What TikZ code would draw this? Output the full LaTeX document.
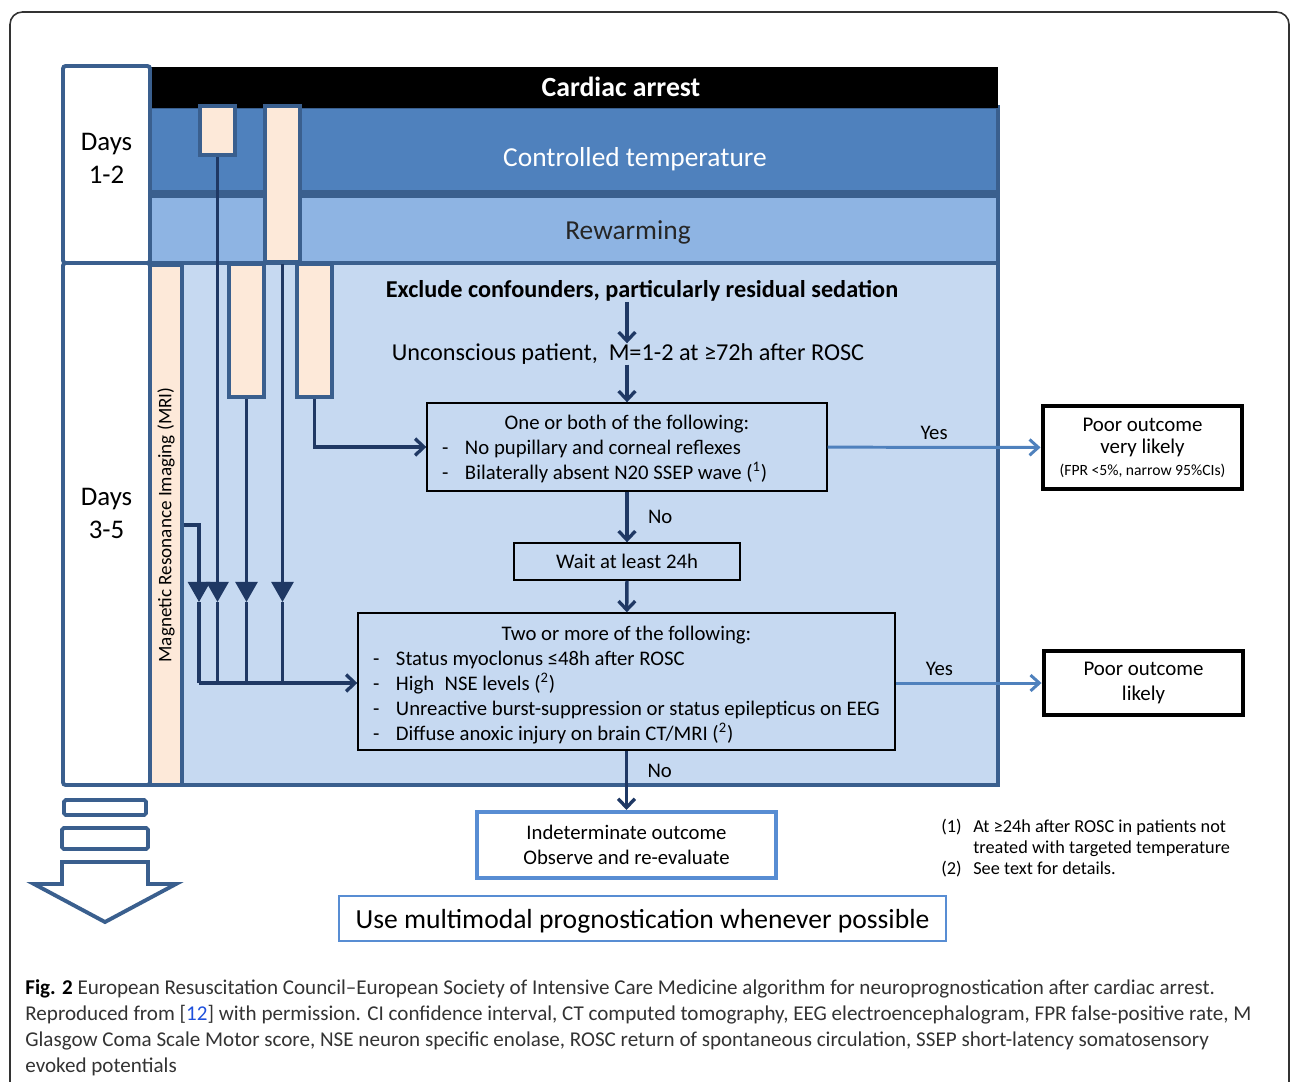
\documentclass[tikz,border=0pt]{standalone}
\usepackage{fontspec}
\setmainfont{Carlito}
\usetikzlibrary{arrows.meta,positioning}

\definecolor{frameblue}{RGB}{58,95,142}
\definecolor{ctrlblue}{RGB}{79,129,189}
\definecolor{rewarmblue}{RGB}{142,180,227}
\definecolor{paleblue}{RGB}{198,217,241}
\definecolor{peach}{RGB}{253,233,217}
\definecolor{navy}{RGB}{31,56,100}
\definecolor{yesblue}{RGB}{79,129,189}
\definecolor{lightframe}{RGB}{88,141,211}
\definecolor{linkblue}{RGB}{30,80,220}

\newlength\pxu
\setlength\pxu{0.02cm}
\newcommand\fsz[2]{\fontsize{#1}{#2}\selectfont}
\newcommand\critline[1]{\hspace*{15\pxu}\makebox[23\pxu][l]{-}#1\par}

\begin{document}
\begin{tikzpicture}[x=0.02cm,y=-0.02cm,every node/.style={inner sep=0pt},
    band/.style={draw=frameblue,line width=2.2pt,minimum width=848*\pxu},
    band text/.style={font=\fsz{15.6}{18}},
    day box/.style={draw=frameblue,line width=2.2pt,fill=white,rounded corners=1.5pt,minimum width=87*\pxu},
    day text/.style={align=center,font=\fsz{15.3}{18.7}},
    peach bar/.style={draw=frameblue,line width=2.2pt,fill=peach,minimum width=35*\pxu},
    crit box/.style={draw=black,line width=0.8pt,fill=paleblue,font=\fsz{11.8}{14.2}},
    outcome box/.style={draw=black,line width=2.8pt,fill=white,minimum width=199*\pxu,align=center},
    navy line/.style={draw=navy,line width=1.9pt},
    navy arrow/.style={navy line,-{Straight Barb[length=5pt,width=9.5pt]}},
    drop arrow/.style={navy line,-{Triangle[length=11.5pt,width=12.5pt]}},
    yes arrow/.style={draw=yesblue,line width=1.7pt,-{Straight Barb[length=5pt,width=9pt]}},
    small label/.style={font=\fsz{11.8}{13},text=black}]

    \useasboundingbox (0,0) rectangle (1292,1082);
    \clip (0,0) rectangle (1292,1082);
    \draw[black!80,line width=0.9pt,rounded corners=7pt] (10,12) rectangle (1289,1120);

    \node[band,fill=ctrlblue,minimum height=85*\pxu,label={[band text,text=white,xshift=61*\pxu,yshift=-10*\pxu]center:Controlled temperature}] (ctrl) at (574,149.5) {};
    \node[band,fill=rewarmblue,minimum height=67*\pxu,label={[band text,text=black!85,xshift=54*\pxu,yshift=-2.5*\pxu]center:Rewarming}] (rewarm) at (574,229.5) {};
    \node[band,draw=none,fill=black,minimum height=41*\pxu,text=white,font=\bfseries\fsz{15.8}{18}] (cardiac) at (574,87) {\hspace*{94\pxu}Cardiac arrest};
    \node[band,fill=paleblue,minimum height=522*\pxu] (lower) at (574,524) {};
    \node[day box,minimum height=197*\pxu,label={[day text,yshift=6*\pxu]center:Days\\1-2}] (days12) at (106.5,164.5) {};
    \node[day box,minimum height=522*\pxu,label={[day text,yshift=10.5*\pxu]center:Days\\3-5}] (days35) at (106.5,524) {};

    \node[peach bar,minimum height=49*\pxu] (pA) at (217.5,130.5) {};
    \node[peach bar,minimum height=156*\pxu] (pB) at (282.5,184) {};
    \node[peach bar,minimum height=133*\pxu] (pC) at (246.5,330.5) {};
    \node[peach bar,minimum height=133*\pxu] (pD) at (314.5,330.5) {};
    \node[peach bar,rotate=90,minimum width=520*\pxu,minimum height=32*\pxu,font=\fsz{10.9}{12}] (mri) at (166,525) {Magnetic Resonance Imaging (MRI)};

    \node[font=\bfseries\fsz{13.8}{16}] (excl) at (642,291) {Exclude confounders, particularly residual sedation};
    \node[font=\fsz{13.8}{16}] (uncon) at (628,354) {Unconscious patient,\hspace{0.45em}M=1-2 at ≥72h after ROSC};
    \node[crit box,minimum width=400*\pxu,minimum height=88*\pxu] (both) at (627,447) {\begin{minipage}{400\pxu}\vspace*{4\pxu}\centering One or both of the following:\par\raggedright
        \critline{No pupillary and corneal reflexes}
        \critline{Bilaterally absent N20 SSEP wave (\textsuperscript{1})}\end{minipage}};
    \node[crit box,minimum width=226*\pxu,minimum height=37*\pxu] (wait) at (627,561.5) {Wait at least 24h};
    \node[crit box,minimum width=537*\pxu,minimum height=137*\pxu] (two) at (626.5,681.5) {\begin{minipage}{537\pxu}\vspace*{7\pxu}\centering Two or more of the following:\par\raggedright
        \critline{Status myoclonus ≤48h after ROSC}
        \critline{High\hspace{0.5em}NSE levels (\textsuperscript{2})}
        \critline{Unreactive burst-suppression or status epilepticus on EEG}
        \critline{Diffuse anoxic injury on brain CT/MRI (\textsuperscript{2})}\end{minipage}};
    \node[draw=lightframe,line width=2.3pt,fill=white,minimum width=299*\pxu,minimum height=66*\pxu,align=center,font=\fsz{11.8}{14.2}] (indet) at (626.5,845) {Indeterminate outcome\\Observe and re-evaluate};
    \node[outcome box,minimum height=83*\pxu,font=\fsz{11.9}{12.5}] (poorvl) at (1142.5,447.5) {Poor outcome\\very likely\\{\fsz{8.9}{12.5}(FPR <5\%, narrow 95\%CIs)}};
    \node[outcome box,minimum height=64*\pxu,font=\fsz{11.9}{14.2}] (poorl) at (1143.5,683) {Poor outcome\\likely};
    \node[draw=lightframe,line width=1.5pt,fill=white,minimum width=607*\pxu,minimum height=45*\pxu,font=\fsz{15.7}{18},label={[font=\fsz{15.7}{18},yshift=-3*\pxu]center:Use multimodal prognostication whenever possible}] (multi) at (642.5,918.5) {};

    \node[anchor=north west,font=\fsz{10.4}{11.9}] (notes) at (941,818) {\begin{tabular}{@{}p{32\pxu}@{}l@{}}(1)&At ≥24h after ROSC in patients not\\&treated with targeted temperature\\(2)&See text for details.\end{tabular}};
    \node[anchor=north west,align=left,font=\fsz{12}{14.9},text=black!80] (caption) at (25,979) {{\bfseries\color{black}Fig. 2} European Resuscitation Council–European Society of Intensive Care Medicine algorithm for neuroprognostication after cardiac arrest.\\Reproduced from [{\color{linkblue}12}] with permission. CI confidence interval, CT computed tomography, EEG electroencephalogram, FPR false-positive rate, M\\Glasgow Coma Scale Motor score, NSE neuron specific enolase, ROSC return of spontaneous circulation, SSEP short-latency somatosensory\\evoked potentials};

    \coordinate (tM) at (199,602);
    \coordinate (bM) at (199,683);
    \coordinate (tA) at (pA.south |- tM);
    \coordinate (bA) at (pA.south |- bM);
    \coordinate (tB) at (pB.south |- tM);
    \coordinate (bB) at (pB.south |- bM);
    \coordinate (tC) at (pC.south |- tM);
    \coordinate (bC) at (pC.south |- bM);

    \draw[drop arrow] (mri.south) -| (tM);
    \draw[drop arrow] (pA) -- (tA);
    \draw[drop arrow] (pB) -- (tB);
    \draw[drop arrow] (pC) -- (tC);
    \draw[navy line] (tM) -- (bM) (tA) -- (bA) (tB) -- (bB) (tC) -- (bC);
    \draw[navy arrow] (bM) -- (bM -| two.west);
    \draw[navy arrow] (pD) |- (both);

    \path
        (excl.south -| both.north) edge[navy arrow] (uncon.north -| both.north)
        (uncon.south -| both.north) edge[navy arrow] (both)
        (both) edge[navy arrow] node[right=11pt,small label] {No} (wait)
        (wait) edge[navy arrow] (two)
        (two) edge[navy arrow] node[pos=0.34,right=11pt,small label] {No} (indet)
        (both) edge[yes arrow] node[above=3.5pt,small label] {Yes} (poorvl)
        (two.east |- poorl) edge[yes arrow] node[pos=0.3,above=3.5pt,small label] {Yes} (poorl)
    ;

    \draw[frameblue,line width=2.2pt,rounded corners=1pt] (64,800) rectangle (146,815);
    \draw[frameblue,line width=2.2pt,rounded corners=1pt] (62,828) rectangle (148,849);
    \draw[frameblue,line width=2.2pt,fill=white] (62,862) -- (148,862) -- (148,884) -- (176,884) -- (105,922) -- (34,884) -- (62,884) -- cycle;
\end{tikzpicture}
\end{document}
